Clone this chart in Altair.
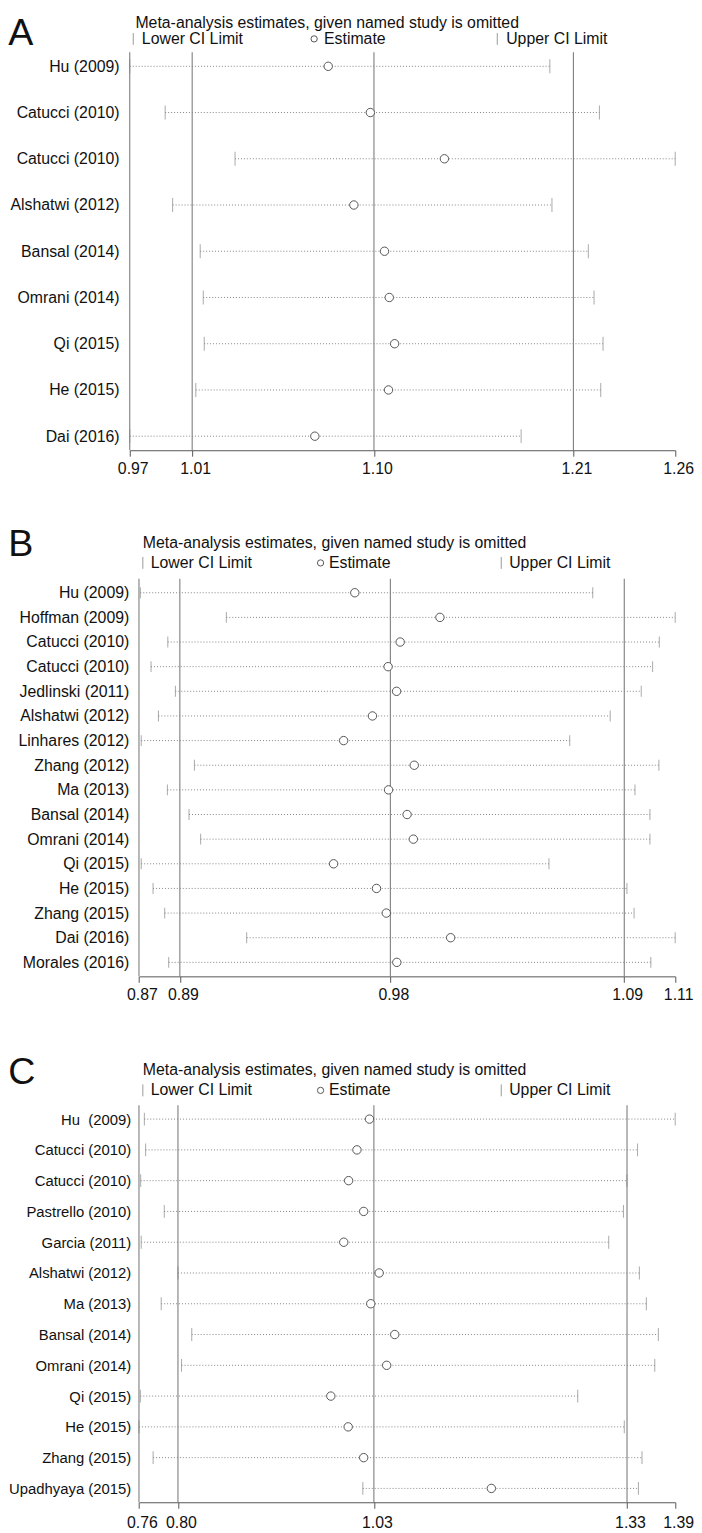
import json
import altair as alt
import pandas as pd

FONT = "Liberation Sans"
TITLE = "Meta-analysis estimates, given named study is omitted"

# ---------------- Panel A ----------------
a_studies = ["Hu (2009)", "Catucci (2010)", "Catucci (2010)", "Alshatwi (2012)", "Bansal (2014)",
             "Omrani (2014)", "Qi (2015)", "He (2015)", "Dai (2016)"]
a_lower = [0.9745, 0.9930, 1.0295, 0.9969, 1.0113, 1.0129, 1.0134, 1.0090, 0.9745]
a_est = [1.0782, 1.1002, 1.1389, 1.0916, 1.1076, 1.1101, 1.1129, 1.1097, 1.0712]
a_upper = [1.1940, 1.2199, 1.2595, 1.1951, 1.2141, 1.2171, 1.2218, 1.2206, 1.1790]
a_axis = [0.9745, 1.0071, 1.1021, 1.2063, 1.2595]

# ---------------- Panel B ----------------
b_studies = ["Hu (2009)", "Hoffman (2009)", "Catucci (2010)", "Catucci (2010)", "Jedlinski (2011)",
             "Alshatwi (2012)", "Linhares (2012)", "Zhang (2012)", "Ma (2013)", "Bansal (2014)",
             "Omrani (2014)", "Qi (2015)", "He (2015)", "Zhang (2015)", "Dai (2016)", "Morales (2016)"]
b_lower = [0.8706, 0.9091, 0.8829, 0.8754, 0.8863, 0.8787, 0.8710, 0.8948, 0.8827, 0.8924,
           0.8976, 0.8710, 0.8763, 0.8815, 0.9182, 0.8833]
b_est = [0.9666, 1.0047, 0.9869, 0.9815, 0.9853, 0.9745, 0.9616, 0.9932, 0.9817, 0.9900,
         0.9928, 0.9571, 0.9763, 0.9807, 1.0095, 0.9854]
b_upper = [1.0731, 1.1100, 1.1029, 1.0999, 1.0948, 1.0809, 1.0628, 1.1027, 1.0920, 1.0987,
           1.0987, 1.0535, 1.0884, 1.0916, 1.1100, 1.0991]
b_axis = [0.8700, 0.8883, 0.9825, 1.0872, 1.1100]

# ---------------- Panel C ----------------
c_studies = ["Hu \u00a0(2009)", "Catucci (2010)", "Catucci (2010)", "Pastrello (2010)", "Garcia (2011)",
             "Alshatwi (2012)", "Ma (2013)", "Bansal (2014)", "Omrani (2014)", "Qi (2015)",
             "He (2015)", "Zhang (2015)", "Upadhyaya (2015)"]
c_lower = [0.7633, 0.7648, 0.7590, 0.7867, 0.7596, 0.8028, 0.7831, 0.8190, 0.8070, 0.7586,
           0.7570, 0.7736, 1.0200]
c_est = [1.0278, 1.0131, 1.0033, 1.0210, 0.9976, 1.0392, 1.0293, 1.0575, 1.0480, 0.9824,
         1.0028, 1.0210, 1.1710]
c_upper = [1.3870, 1.3428, 1.3303, 1.3262, 1.3089, 1.3449, 1.3531, 1.3672, 1.3630, 1.2725,
           1.3272, 1.3480, 1.3438]
c_axis = [0.7570, 0.8028, 1.0330, 1.3304, 1.3870]

W = 550.9
LINE = "#707070"
DOT = "#858585"
ONE = pd.DataFrame({"a": [0]})


def text_layer(txt, x, y, size=16, align="left", baseline="middle", color="#111"):
    return alt.Chart(ONE).mark_text(
        align=align, baseline=baseline, fontSize=size, font=FONT, color=color
    ).encode(x=alt.value(x), y=alt.value(y), text=alt.value(txt))


def bar_layer(x, y):
    return alt.Chart(ONE).mark_rule(color="#999", strokeWidth=1).encode(
        x=alt.value(x), y=alt.value(y - 6), y2=alt.value(y + 6))


def panel(letter, studies, lower, est, upper, axis_vals, x0, height, pad, tick_h,
          lab_size, lab_pad, letter_y, title_y, legend_y, hx, xlab_pad):
    n = len(studies)
    df = pd.DataFrame({"row": list(range(n)), "lower": lower, "est": est, "upper": upper})
    refs = pd.DataFrame({"v": axis_vals[:4]})
    scale = alt.Scale(domain=[axis_vals[0], axis_vals[-1]], range=[x0, W], nice=False, zero=False)
    xaxis = alt.Axis(values=axis_vals, format=".2f", title=None, grid=False,
                     domainColor="#555", tickColor="#555", tickSize=6,
                     labelFontSize=16, labelFont=FONT, labelColor="#111", labelPadding=xlab_pad,
                     labelOverlap=False, labelFlush=False, labelOffset=3)

    def X(f):
        return alt.X(f"{f}:Q", scale=scale, axis=xaxis)

    yaxis = alt.Axis(title=None, domain=False, ticks=False, tickSize=0, labelPadding=lab_pad,
                     labelFontSize=lab_size, labelFont=FONT, labelColor="#111", labelOverlap=False,
                     labelExpr=f"{json.dumps(studies)}[datum.value]")
    Y = alt.Y("row:O", scale=alt.Scale(type="point", padding=pad), axis=yaxis)

    ref_rules = alt.Chart(refs).mark_rule(color=LINE, strokeWidth=1).encode(
        x=X("v"), y=alt.value(0), y2=alt.value(height))
    ci = alt.Chart(df).mark_rule(color=DOT, strokeDash=[1, 2], strokeWidth=1).encode(
        x=X("lower"), x2="upper", y=Y)
    lo = alt.Chart(df).mark_tick(size=tick_h, thickness=1, color=DOT).encode(x=X("lower"), y=Y)
    up = alt.Chart(df).mark_tick(size=tick_h, thickness=1, color=DOT).encode(x=X("upper"), y=Y)
    pts = alt.Chart(df).mark_point(shape="circle", size=72, filled=False, fill="white",
                                   stroke="#555", strokeWidth=1, opacity=1).encode(x=X("est"), y=Y)

    legend_pt = alt.Chart(ONE).mark_point(
        shape="circle", size=40, filled=False, stroke="#555", strokeWidth=1, opacity=1
    ).encode(x=alt.value(hx[3]), y=alt.value(legend_y))

    layers = [
        ref_rules, ci, lo, up, pts,
        text_layer(letter, -122.8, letter_y, size=38, baseline="top"),
        text_layer(TITLE, hx[0], title_y),
        bar_layer(hx[1], legend_y),
        text_layer("Lower CI Limit", hx[2], legend_y),
        legend_pt,
        text_layer("Estimate", hx[4], legend_y),
        bar_layer(hx[5], legend_y),
        text_layer("Upper CI Limit", hx[6], legend_y),
    ]
    return alt.layer(*layers).properties(width=W, height=height)


hx_a = [5.7, 3.5, 12.2, 186.2, 196.2, 371.2, 380.2]
hx_bc = [13.2, 13.2, 21.2, 192.7, 201.2, 375.2, 383.2]

pa = panel("A", a_studies, a_lower, a_est, a_upper, a_axis, 0, 402, 0.304, 14,
           16, 10.8, -37, -29, -13.5, hx_a, 4)
pb = panel("B", b_studies, b_lower, b_est, b_upper, b_axis, 9.3, 401.6, 0.568, 11,
           16, 1, -52.8, -36, -16, hx_bc, 4)
pc = panel("C", c_studies, c_lower, c_est, c_upper, c_axis, 9.3, 401, 0.45, 13,
           15, -1, -51.1, -36, -15, hx_bc, 6)

chart = alt.vconcat(pa, pb, pc, spacing=129.8, bounds="flush").properties(
    padding=0
).configure_view(stroke=None)

chart.save("out.html", embed_options={"renderer": "svg", "actions": False})
